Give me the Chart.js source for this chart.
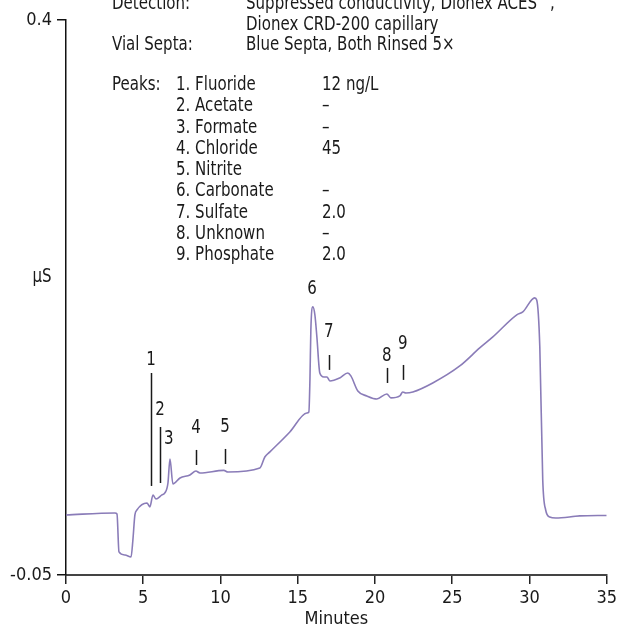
<!DOCTYPE html>
<html>
<head>
<meta charset="utf-8">
<script src="https://cdn.jsdelivr.net/npm/chart.js@4.4.1/dist/chart.umd.min.js"></script>
<style>
  html, body { margin: 0; padding: 0; background: #fff; }
  #wrap { width: 621px; height: 633px; }
</style>
</head>
<body>
<div id="wrap"><canvas id="chart"></canvas></div>
<script>
// chromatogram trace, minutes vs µS
const minutes = [0, 3.17, 3.30, 3.43, 3.82, 4.21, 4.33, 4.46, 4.59, 5.24,
  5.43, 5.63, 5.82, 6.21, 6.40, 6.60, 6.73, 6.92, 7.38, 8.02,
  8.41, 8.67, 10.22, 10.48, 12.55, 12.87, 13.20, 14.49, 15.59, 15.72,
  15.79, 15.85, 15.98, 16.11, 16.24, 16.43, 16.69, 16.89, 17.08, 17.72,
  18.24, 18.44, 18.89, 19.47, 20.12, 20.77, 21.03, 21.61, 21.80, 22.00,
  22.45, 23.74, 25.49, 26.78, 27.63, 29.18, 29.57, 30.34, 30.47, 30.67,
  30.86, 31.05, 31.31, 31.70, 33.25, 35.0]
const signal = [-0.0013, 0.0003, -0.0005, -0.0313, -0.0338, -0.0354, -0.0216, -0.0013, 0.0027, 0.0084,
  0.0052, 0.0149, 0.0116, 0.0149, 0.0165, 0.0246, 0.0441, 0.0238, 0.0287, 0.0311,
  0.0343, 0.0327, 0.0348, 0.0335, 0.0368, 0.0457, 0.0498, 0.066, 0.0814, 0.0822,
  0.108, 0.1487, 0.1674, 0.161, 0.143, 0.1138, 0.1106, 0.1106, 0.1073, 0.1098,
  0.1138, 0.1114, 0.0992, 0.0952, 0.0927, 0.0968, 0.0936, 0.0952, 0.0984, 0.0976,
  0.0984, 0.1057, 0.1195, 0.1341, 0.143, 0.1609, 0.1633, 0.1747, 0.173, 0.1349,
  0.027, 0.0027, -0.003, -0.0038, -0.0021, -0.0017]

// peak numbers above the trace
const peakNums = ['1', '2', '3', '4', '5', '6', '7', '8', '9']
const peakTimes = [5.5, 6.08, 6.66, 8.41, 10.29, 15.92, 17.01, 20.77, 21.8]
const labelY = [0.1244, 0.0838, 0.0603, 0.0692, 0.070, 0.182, 0.147, 0.1276, 0.1373]
const markTop = [0.1138, 0.070, null, 0.0514, 0.0522, null, 0.1284, 0.1179, 0.1203]
const markBottom = [0.0222, 0.0246, null, 0.0392, 0.040, null, 0.1163, 0.1057, 0.1082]

const yTicks = [-0.05, 0.4]
const xTicks = [0, 5, 10, 15, 20, 25, 30, 35]

const conditions = [
  ['Detection:', 'Suppressed conductivity, Dionex ACES'],
  ['', 'Dionex CRD-200 capillary'],
  ['Vial Septa:', 'Blue Septa, Both Rinsed 5×']
]
const peakNames = ['Fluoride', 'Acetate', 'Formate', 'Chloride', 'Nitrite', 'Carbonate', 'Sulfate', 'Unknown', 'Phosphate']
const peakAmounts = ['12 ng/L', '–', '–', '45', '', '–', '2.0', '–', '2.0']

const FONT = '"Liberation Sans Narrow", "DejaVu Sans Condensed", "Arial Narrow", sans-serif'
const ink = '#1a1a1a'
const SQUEEZE = 0.88

// draw text narrowed a bit, the original uses a condensed face
function narrowText(ctx, txt, x, y) {
  ctx.save()
  ctx.translate(x, y)
  ctx.scale(SQUEEZE, 1)
  ctx.fillText(txt, 0, 0)
  ctx.restore()
}

const annotations = {
  id: 'annotations',
  afterDraw(chart) {
    const ctx = chart.ctx
    const xs = chart.scales.x, ys = chart.scales.y
    ctx.save()
    ctx.fillStyle = ink
    ctx.strokeStyle = ink
    ctx.font = '19px ' + FONT

    // peak markers
    ctx.lineWidth = 1.5
    ctx.textAlign = 'center'
    ctx.textBaseline = 'middle'
    peakNums.forEach((n, i) => {
      const x = xs.getPixelForValue(peakTimes[i])
      narrowText(ctx, n, x, ys.getPixelForValue(labelY[i]))
      if (markTop[i] != null) {
        ctx.beginPath()
        ctx.moveTo(Math.round(x) + 0.5, ys.getPixelForValue(markTop[i]))
        ctx.lineTo(Math.round(x) + 0.5, ys.getPixelForValue(markBottom[i]))
        ctx.stroke()
      }
    })

    // y unit
    narrowText(ctx, 'µS', 42, 277)

    // conditions block
    ctx.textAlign = 'left'
    ctx.textBaseline = 'alphabetic'
    const topBase = [9, 29.5, 50]
    conditions.forEach((row, i) => {
      narrowText(ctx, row[0], 112, topBase[i])
      narrowText(ctx, row[1], 246, topBase[i])
    })
    const w = ctx.measureText(conditions[0][1]).width * SQUEEZE
    ctx.font = '10px ' + FONT
    narrowText(ctx, '™', 246 + w + 1, topBase[0] - 8)
    ctx.font = '19px ' + FONT
    narrowText(ctx, ',', 246 + w + 13, topBase[0])

    // peak list
    peakNames.forEach((name, i) => {
      const base = 90 + i * 21.25
      if (i === 0) narrowText(ctx, 'Peaks:', 112, base)
      narrowText(ctx, (i + 1) + '. ' + name, 176, base)
      narrowText(ctx, peakAmounts[i], 322, base)
    })
    ctx.restore()
  }
}

new Chart(document.getElementById('chart'), {
  type: 'line',
  data: {
    datasets: [{
      data: minutes.map((m, i) => ({ x: m, y: signal[i] })),
      borderColor: '#8a7cb8',
      borderWidth: 1.6,
      pointRadius: 0,
      fill: false,
      cubicInterpolationMode: 'monotone'
    }]
  },
  options: {
    responsive: true,
    maintainAspectRatio: false,
    animation: false,
    layout: { padding: { top: 20, right: 14, left: 0, bottom: 0 } },
    plugins: { legend: { display: false }, tooltip: { enabled: false } },
    scales: {
      x: {
        type: 'linear',
        min: 0,
        max: 35,
        afterBuildTicks: s => { s.ticks = xTicks.map(v => ({ value: v })) },
        afterFit: s => { s.height = 58 },
        border: { display: true, color: '#444', width: 2 },
        grid: { drawOnChartArea: false, drawTicks: true, tickLength: 9, color: '#222', lineWidth: 1.5 },
        ticks: { color: ink, font: { family: FONT, size: 18 }, padding: 4, maxRotation: 0 },
        title: { display: true, text: 'Minutes', color: ink, font: { family: FONT, size: 18 }, padding: { top: 0, bottom: 3 } }
      },
      y: {
        min: -0.05,
        max: 0.4,
        afterBuildTicks: s => { s.ticks = yTicks.map(v => ({ value: v })) },
        afterFit: s => { s.width = 66 },
        border: { display: true, color: '#111', width: 1.5 },
        grid: { drawOnChartArea: false, drawTicks: true, tickLength: 9, color: '#111', lineWidth: 1.5 },
        ticks: { color: ink, font: { family: FONT, size: 18 }, padding: 5, callback: v => String(v) }
      }
    }
  },
  plugins: [annotations]
})
</script>
</body>
</html>
